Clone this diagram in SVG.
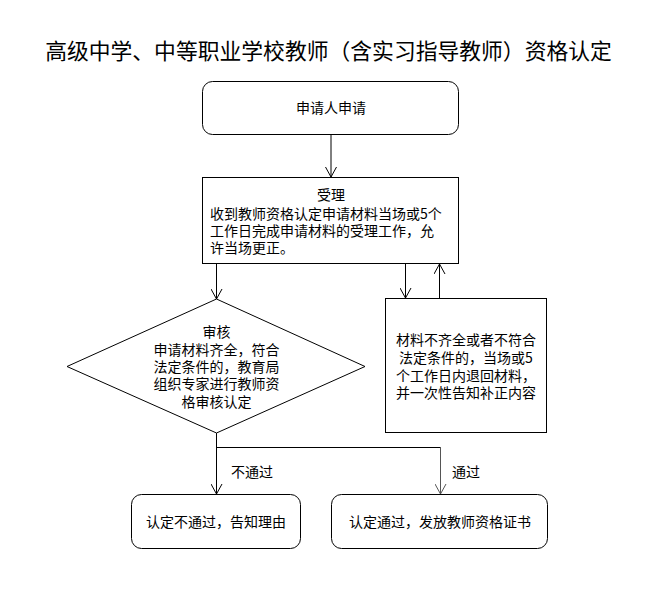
<svg xmlns="http://www.w3.org/2000/svg" width="657" height="594" viewBox="0 0 657 594">
<defs>
<marker id="arr" viewBox="0 0 10 12" refX="10" refY="6" markerWidth="10" markerHeight="12" markerUnits="userSpaceOnUse" orient="auto">
<path d="M0,0.5 L10,6 L0,11.5" fill="none" stroke="#000" stroke-width="1"/>
</marker>
<marker id="arrg" viewBox="0 0 10 12" refX="10" refY="6" markerWidth="10" markerHeight="12" markerUnits="userSpaceOnUse" orient="auto">
<path d="M0,0.5 L10,6 L0,11.5" fill="none" stroke="#555" stroke-width="1"/>
</marker>
</defs>
<style>
text{font-family:"Noto Sans CJK SC","Microsoft YaHei",sans-serif;font-size:14px;fill:#000;}
.t{font-size:21.8px;}
.c{text-anchor:middle;}
.s{fill:#fff;stroke:#000;stroke-width:1;}
.ln{fill:none;stroke:#000;stroke-width:1;}
</style>
<rect width="657" height="594" fill="#fff"/>
<text class="t c" x="328.5" y="59">高级中学、中等职业学校教师（含实习指导教师）资格认定</text>

<g id="connectors">
<line class="ln" x1="331" y1="135" x2="331" y2="177" marker-end="url(#arr)"/>
<line class="ln" x1="216.5" y1="264" x2="216.5" y2="299" marker-end="url(#arr)"/>
<line class="ln" x1="405.5" y1="264" x2="405.5" y2="298" marker-end="url(#arr)"/>
<line class="ln" x1="439.5" y1="298" x2="439.5" y2="264" marker-end="url(#arr)"/>
<polyline class="ln" points="216.5,433 216.5,447.5 440.5,447.5"/>
<line class="ln" x1="216.5" y1="447" x2="216.5" y2="494" marker-end="url(#arr)"/>
<line x1="440.5" y1="447" x2="440.5" y2="494" stroke="#555" stroke-width="1" marker-end="url(#arrg)"/>
<text x="231" y="477">不通过</text>
<text x="452" y="477">通过</text>
</g>

<g id="apply">
<rect class="s" x="202.5" y="81.5" width="256" height="53" rx="10"/>
<text class="c" x="331" y="113">申请人申请</text>
</g>

<g id="accept">
<rect class="s" x="202.5" y="177.5" width="256" height="86"/>
<text x="210" y="200"><tspan x="331" text-anchor="middle">受理</tspan><tspan x="210" y="219">收到教师资格认定申请材料当场或5个</tspan><tspan x="210" y="236">工作日完成申请材料的受理工作，允</tspan><tspan x="210" y="253">许当场更正。</tspan></text>
</g>

<g id="review">
<polygon class="s" points="216.5,299 365,366.5 216.5,433 67,366.5"/>
<text class="c" x="216.5" y="337">审核<tspan x="216.5" y="355">申请材料齐全，符合</tspan><tspan x="216.5" y="372">法定条件的，教育局</tspan><tspan x="216.5" y="389">组织专家进行教师资</tspan><tspan x="216.5" y="407">格审核认定</tspan></text>
</g>

<g id="return">
<rect class="s" x="385.5" y="298.5" width="161" height="134"/>
<text class="c" x="466" y="345">材料不齐全或者不符合<tspan x="466" y="363">法定条件的，当场或5</tspan><tspan x="466" y="381">个工作日内退回材料，</tspan><tspan x="466" y="398">并一次性告知补正内容</tspan></text>
</g>

<g id="fail">
<rect class="s" x="131.5" y="494.5" width="169" height="54" rx="10"/>
<text class="c" x="216" y="527">认定不通过，告知理由</text>
</g>

<g id="pass">
<rect class="s" x="331.5" y="494.5" width="216" height="54" rx="10"/>
<text class="c" x="440" y="527">认定通过，发放教师资格证书</text>
</g>
</svg>
